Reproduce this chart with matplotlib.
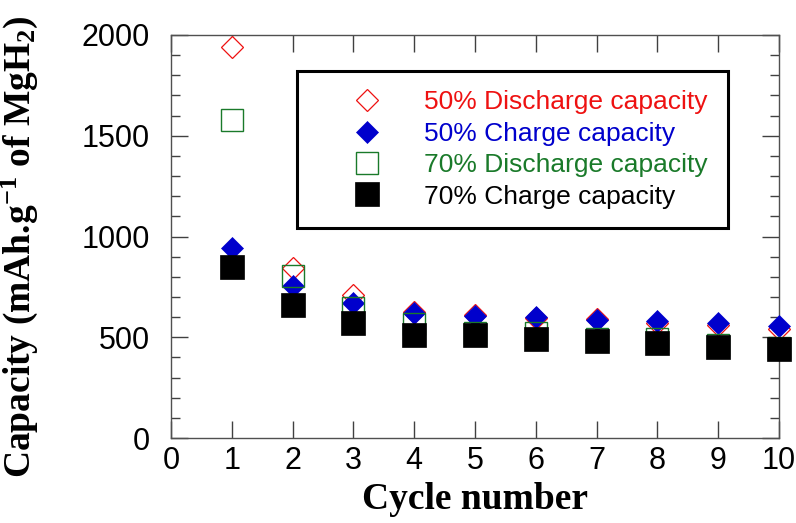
import matplotlib
matplotlib.use('Agg')
import matplotlib.pyplot as plt
from matplotlib.ticker import MultipleLocator

plt.rcParams['font.family'] = ['Liberation Sans', 'DejaVu Sans']
plt.rcParams['mathtext.fontset'] = 'custom'
plt.rcParams['mathtext.rm'] = 'Liberation Serif:bold'
plt.rcParams['mathtext.bf'] = 'Liberation Serif:bold'
plt.rcParams['mathtext.it'] = 'Liberation Serif:bold'

cycles = [1, 2, 3, 4, 5, 6, 7, 8, 9, 10]
dis50 = [1940, 845, 710, 627, 612, 596, 592, 571, 560, 541]
chg50 = [945, 754, 668, 619, 607, 599, 588, 582, 569, 556]
dis70 = [1578, 805, 644, 567, 520, 523, 493, 491, 463, 445]
chg70 = [849, 660, 570, 511, 510, 490, 480, 471, 450, 442]

labels = ['50% Discharge capacity', '50% Charge capacity',
          '70% Discharge capacity', '70% Charge capacity']
red = '#ee1111'
blue = '#0000cc'
green = '#1a7a2a'
black = '#000000'

fig = plt.figure(figsize=(7.96, 5.23), dpi=100)
ax = fig.add_axes([171 / 796, 85 / 523, 608 / 796, 403 / 523])

h1, = ax.plot(cycles, dis50, 'D', ms=11, mfc='white', mec=red, mew=0.9,
              ls='none', clip_on=False, label=labels[0], zorder=3)
h2, = ax.plot(cycles, chg50, 'D', ms=11, mfc=blue, mec=blue, mew=0.5,
              ls='none', clip_on=False, label=labels[1], zorder=4)
h3, = ax.plot(cycles, dis70, 's', ms=15.5, mfc='none', mec=green, mew=1.0,
              ls='none', clip_on=False, label=labels[2], zorder=5)
h4, = ax.plot(cycles, chg70, 's', ms=17, mfc=black, mec=black, mew=0.5,
              ls='none', clip_on=False, label=labels[3], zorder=6)

ax.set_xlim(0, 10)
ax.set_ylim(0, 2000)
ax.xaxis.set_major_locator(MultipleLocator(1))
ax.yaxis.set_major_locator(MultipleLocator(500))
ax.yaxis.set_minor_locator(MultipleLocator(100))

for s in ax.spines.values():
    s.set_color('#505050')
    s.set_linewidth(1.0)
ax.tick_params(which='both', direction='in', top=True, right=True,
               color='#404040', width=1.0, labelsize=22)
ax.tick_params(which='major', length=12)
ax.tick_params(which='minor', length=6.5)
ax.tick_params(axis='x', pad=6)
ax.tick_params(axis='y', pad=15)

ax.set_xlabel('Cycle number', family='Liberation Serif', weight='bold',
              fontsize=27, labelpad=4)
ax.set_ylabel(r'Capacity (mAh.g$^{-1}$ of MgH$_{2}$)', family='Liberation Serif',
              weight='bold', fontsize=27)
ax.yaxis.set_label_coords(-0.215, 0.474)

leg = ax.legend(handles=[h1, h2, h3, h4], loc='upper left',
                bbox_to_anchor=(0.2077, 0.9114), borderaxespad=0,
                fontsize=19, frameon=True, fancybox=False, framealpha=1,
                edgecolor='black', borderpad=0.75, handlelength=3.76,
                handletextpad=0.31, labelspacing=0.28, numpoints=1)
leg.get_frame().set_linewidth(2.2)
for t, c in zip(leg.get_texts(), [red, blue, green, black]):
    t.set_color(c)

fig.savefig('out.png', dpi=100)
